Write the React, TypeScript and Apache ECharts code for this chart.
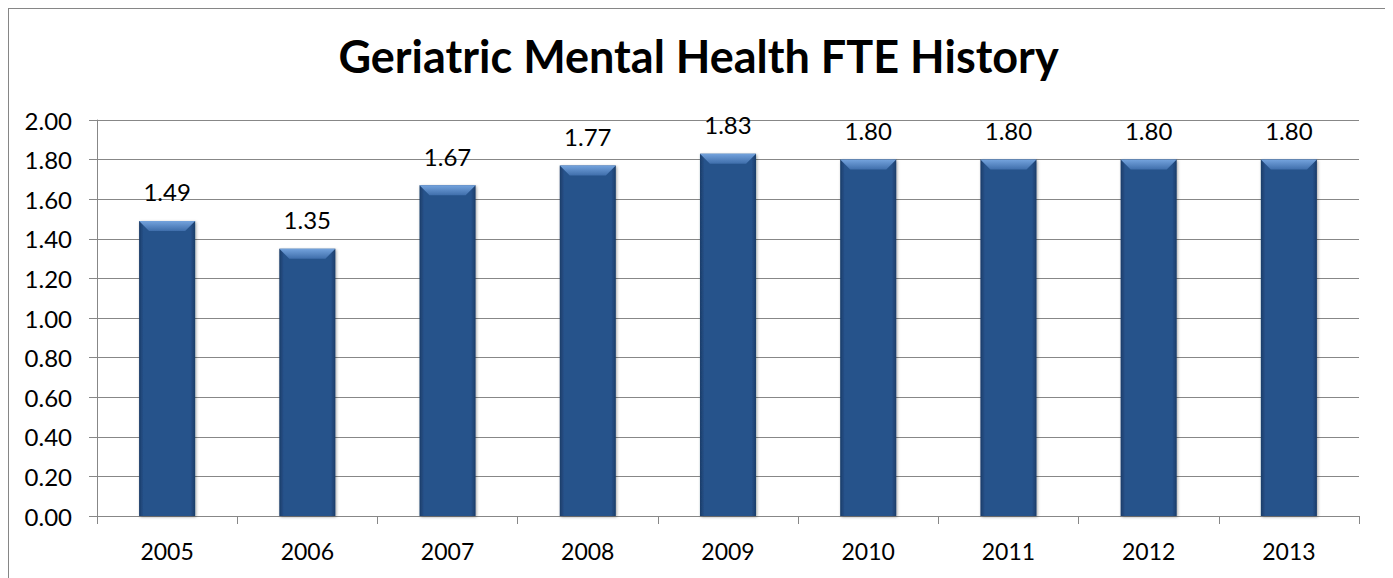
import React, { useEffect, useRef } from "react";
import * as echarts from "echarts";

const categories = ["2005", "2006", "2007", "2008", "2009", "2010", "2011", "2012", "2013"];
const fteValues = [1.49, 1.35, 1.67, 1.77, 1.83, 1.8, 1.8, 1.8, 1.8];
const titleText = "Geriatric Mental Health FTE History";

const FONT = "Lato, 'Open Sans', sans-serif";
const GRAY = "#878787";

export default function App() {
  const ref = useRef<HTMLDivElement>(null);
  useEffect(() => {
    if (!ref.current) return;
    const chart = echarts.init(ref.current, null, { renderer: "svg" });
    chart.setOption({
      animation: false,
      textStyle: { fontFamily: FONT },
      graphic: [
        {
          type: "text",
          left: "center",
          top: 24,
          style: {
            text: titleText,
            font: "bold 45px " + FONT,
            fill: "#000",
          },
        },
      ],
      grid: { left: 88, top: 111, width: 1262, height: 396, containLabel: false },
      xAxis: {
        type: "category",
        data: categories,
        boundaryGap: true,
        axisLine: { lineStyle: { color: GRAY, width: 1 } },
        axisTick: { show: true, length: 8, alignWithLabel: false, lineStyle: { color: GRAY } },
        axisLabel: { color: "#000", fontSize: 23, margin: 23, fontFamily: FONT },
      },
      yAxis: {
        type: "value",
        min: 0,
        max: 2,
        interval: 0.2,
        axisLine: { show: true, lineStyle: { color: GRAY, width: 1 } },
        axisTick: { show: true, length: 8, lineStyle: { color: GRAY } },
        splitLine: { show: true, lineStyle: { color: GRAY, width: 1 } },
        axisLabel: {
          color: "#000",
          fontSize: 24,
          margin: 25,
          fontFamily: FONT,
          formatter: (v: number) => v.toFixed(2),
        },
      },
      series: [
        {
          type: "bar",
          data: fteValues,
          barWidth: "40%",
          itemStyle: {
            color: {
              type: "linear",
              x: 0,
              y: 0,
              x2: 1,
              y2: 0,
              colorStops: [
                { offset: 0, color: "#1b3c68" },
                { offset: 0.08, color: "#27528b" },
                { offset: 0.92, color: "#27528b" },
                { offset: 1, color: "#1b3c68" },
              ],
            },
            shadowColor: "rgba(0,0,0,0.35)",
            shadowBlur: 3,
            shadowOffsetX: 1,
            shadowOffsetY: 1,
          },
          label: {
            show: true,
            position: "top",
            distance: 17,
            color: "#000",
            fontSize: 24,
            fontFamily: FONT,
            formatter: (p: any) => Number(p.value).toFixed(2),
          },
          z: 2,
        },
        {
          type: "custom",
          data: fteValues.map((v, i) => [i, v]),
          z: 3,
          silent: true,
          renderItem: (params: any, api: any) => {
            const pt = api.coord([api.value(0), api.value(1)]);
            const w = api.size([1, 0])[0] * 0.4;
            const x0 = pt[0] - w / 2;
            const x1 = pt[0] + w / 2;
            const y0 = pt[1];
            const b = 10;
            return {
              type: "group",
              children: [
                {
                  type: "polygon",
                  shape: {
                    points: [
                      [x0, y0],
                      [x1, y0],
                      [x1 - b, y0 + b],
                      [x0 + b, y0 + b],
                    ],
                  },
                  style: {
                    fill: {
                      type: "linear",
                      x: 0,
                      y: 0,
                      x2: 0,
                      y2: 1,
                      colorStops: [
                        { offset: 0, color: "#74a3dd" },
                        { offset: 1, color: "#3f6eab" },
                      ],
                    },
                  },
                },
              ],
            };
          },
        },
      ],
    });
    return () => chart.dispose();
  }, []);
  return (
    <div style={{ border: "1px solid #868686", width: 1379, height: 590 }}>
      <div ref={ref} style={{ width: 1379, height: 590 }} />
    </div>
  );
}
